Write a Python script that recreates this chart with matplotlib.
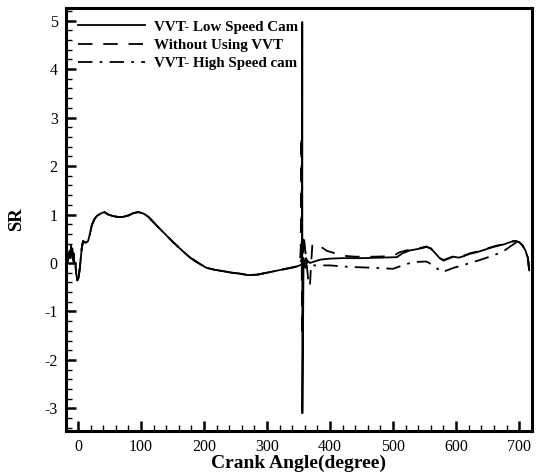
import numpy as np
import matplotlib
matplotlib.use("Agg")
import matplotlib.pyplot as plt
from matplotlib.ticker import MultipleLocator

plt.rcParams['font.family'] = ['Liberation Serif', 'DejaVu Serif']
plt.rcParams['axes.unicode_minus'] = False

# Shared portion of the cycle (all three cases coincide here)
ca_common = [-18, -16, -13, -12, -11, -10, -9, -8, -7, -6, -4, -3, -1, 1, 3, 6, 8,
             12, 16, 19, 22, 26, 30, 36, 42, 48, 55, 63, 71, 80, 88, 96, 104, 112,
             125, 138, 151, 165, 178, 191, 204, 217, 231, 244, 257, 270, 285,
             300, 315, 330, 345, 352]
sr_common = [0.0, 0.05, 0.25, 0.1, 0.35, 0.15, 0.3, 0.05, 0.2, 0.02, 0.0, -0.2,
             -0.36, -0.3, -0.1, 0.3, 0.45, 0.42, 0.45, 0.6, 0.78, 0.9, 0.97, 1.02,
             1.05, 1.0, 0.97, 0.95, 0.95, 0.98, 1.03, 1.05, 1.02, 0.95, 0.77,
             0.6, 0.43, 0.26, 0.11, 0.0, -0.1, -0.14, -0.17, -0.2, -0.22, -0.25,
             -0.24, -0.2, -0.16, -0.12, -0.08, -0.05]

# VVT - low speed cam
ca_low = [355.5, 355.9, 356.1, 358, 361, 364, 368, 375, 385, 400, 420, 450, 480,
          506, 515, 527, 540, 553, 560, 567, 574, 580, 588, 596, 604, 612, 622,
          635, 649, 662, 675, 688, 695, 700, 705, 710, 714, 716]
sr_low = [-0.02, 4.97, -3.1, 0.1, -0.1, 0.05, 0.0, 0.03, 0.07, 0.09, 0.1, 0.1,
          0.11, 0.12, 0.2, 0.26, 0.29, 0.33, 0.3, 0.2, 0.1, 0.05, 0.09, 0.13,
          0.11, 0.14, 0.19, 0.23, 0.29, 0.34, 0.38, 0.44, 0.45, 0.43, 0.37,
          0.26, 0.1, -0.15]

# Without VVT
ca_base = [353.5, 354.5, 355.5, 358, 362, 365, 368, 370, 372, 378, 386, 395, 408,
           420, 440, 470, 500, 510, 527, 540, 553, 560, 567, 574, 580, 588, 596,
           604, 612, 622, 635, 649, 662, 675, 688, 695, 700, 705, 710, 714, 716]
sr_base = [0.3, 2.62, -1.5, 0.6, 0.1, -0.3, -0.5, 0.0, 0.38, 0.4, 0.33, 0.25,
           0.2, 0.15, 0.13, 0.13, 0.14, 0.22, 0.28, 0.3, 0.34, 0.3, 0.2, 0.1,
           0.06, 0.1, 0.14, 0.12, 0.15, 0.2, 0.24, 0.3, 0.35, 0.39, 0.45, 0.45,
           0.43, 0.37, 0.26, 0.1, -0.15]

# VVT - high speed cam
ca_high = [355, 358, 362, 366, 375, 400, 430, 470, 500, 515, 532, 553, 564, 577,
           586, 596, 610, 622, 635, 649, 662, 675, 688, 695, 700, 705, 710, 714,
           716]
sr_high = [0.1, -0.05, 0.1, -0.05, -0.05, -0.05, -0.08, -0.1, -0.12, -0.05,
           0.02, 0.03, -0.05, -0.19, -0.15, -0.1, -0.05, 0.0, 0.05, 0.11, 0.17,
           0.24, 0.36, 0.42, 0.43, 0.37, 0.26, 0.1, -0.15]

labels = ["VVT- Low Speed Cam", "Without Using VVT", "VVT- High Speed cam"]

fig = plt.figure(figsize=(5.36, 4.72), dpi=100)
ax = fig.add_axes([0.1231, 0.0875, 0.8689, 0.8955])

lw = 1.3
ax.plot(ca_common + ca_high, sr_common + sr_high, color='black', lw=lw,
        linestyle=(0, (8, 4, 1.5, 4)), label=labels[2], zorder=2)
ax.plot(ca_common + ca_base, sr_common + sr_base, color='black', lw=lw,
        linestyle=(0, (8, 6)), label=labels[1], zorder=3)
ax.plot(ca_common + ca_low, sr_common + sr_low, color='black', lw=lw,
        linestyle='-', label=labels[0], zorder=4)

ax.set_xlim(-19, 720)
ax.set_ylim(-3.46, 5.26)
ax.xaxis.set_major_locator(MultipleLocator(100))
ax.xaxis.set_minor_locator(MultipleLocator(20))
ax.yaxis.set_major_locator(MultipleLocator(1))
ax.yaxis.set_minor_locator(MultipleLocator(0.2))

ax.tick_params(which='both', direction='in', top=False, right=False,
               labelsize=11.5, pad=6)
ax.tick_params(which='major', length=7, width=1.8)
ax.tick_params(which='minor', length=4, width=1.0)
for s in ax.spines.values():
    s.set_linewidth(2.2)

ax.set_xlabel("Crank Angle(degree)", fontsize=14, fontweight='bold', labelpad=0)
ax.set_ylabel("SR", fontsize=13.5, fontweight='bold', labelpad=14)

handles, labs = ax.get_legend_handles_labels()
order = [2, 1, 0]
leg = ax.legend([handles[i] for i in order], [labs[i] for i in order],
                loc='upper left', bbox_to_anchor=(0.0, 1.0), frameon=False,
                prop={'weight': 'bold', 'size': 10.8}, handlelength=4.5,
                handletextpad=0.6, labelspacing=0.32, borderaxespad=0.4)

fig.savefig("out.png", dpi=100)
